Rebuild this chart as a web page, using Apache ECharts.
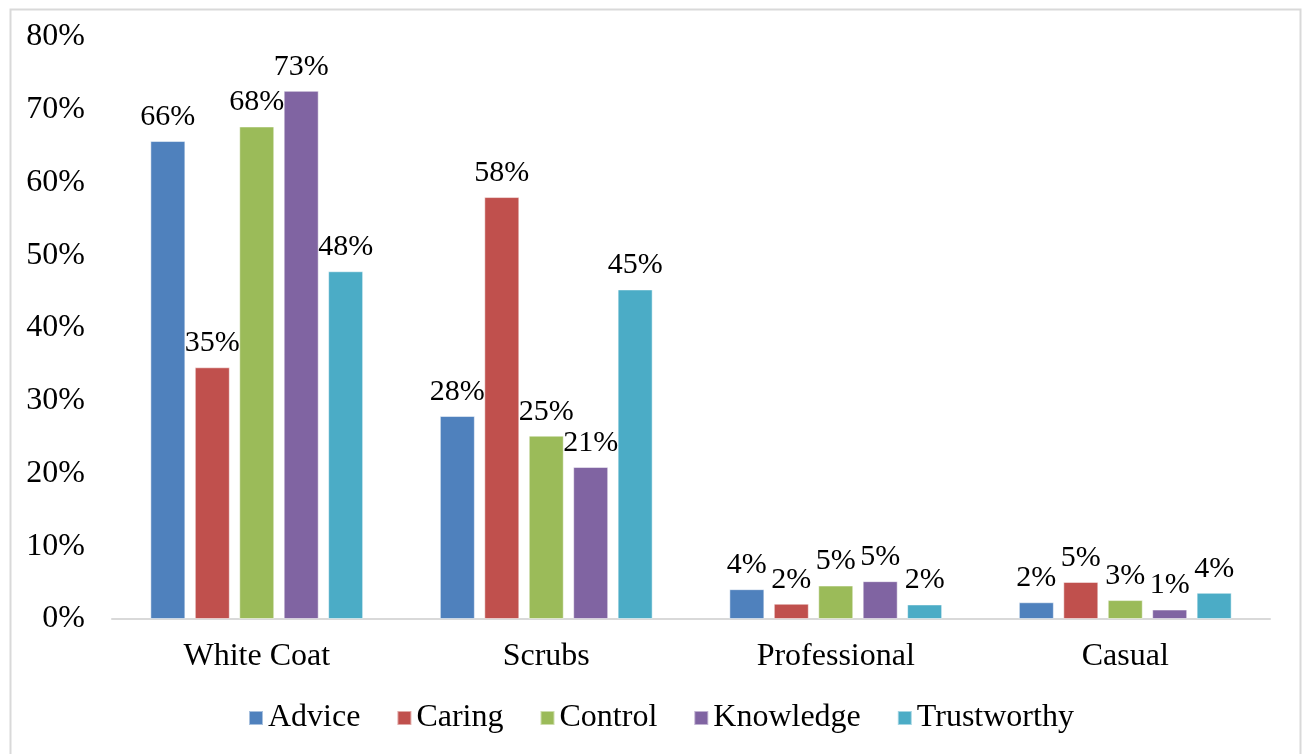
<!DOCTYPE html>
<html>
<head>
<meta charset="utf-8">
<script src="https://cdn.jsdelivr.net/npm/echarts@6/dist/echarts.min.js"></script>
<style>html,body{margin:0;padding:0;background:#fff;}#chart{width:1302px;height:754px;}</style>
</head>
<body>
<div id="chart"></div>
<script>
const categories = ['White Coat', 'Scrubs', 'Professional', 'Casual'];
const seriesNames = ['Advice', 'Caring', 'Control', 'Knowledge', 'Trustworthy'];
const advice = [65.7, 27.9, 4.1, 2.3];
const caring = [34.6, 58.0, 2.1, 5.1];
const control = [67.7, 25.2, 4.6, 2.6];
const knowledge = [72.6, 20.9, 5.2, 1.3];
const trustworthy = [47.8, 45.3, 2.0, 3.6];
const colors = ['#4F81BD', '#C0504D', '#9BBB59', '#8064A2', '#4BACC6'];
const yTicks = { min: 0, max: 80, interval: 10 };

const seriesData = [advice, caring, control, knowledge, trustworthy];
const FONT = "'Liberation Serif', 'Times New Roman', serif";

const chart = echarts.init(document.getElementById('chart'));
chart.setOption({
  animation: false,
  backgroundColor: '#fff',
  textStyle: { fontFamily: FONT, color: '#000' },
  graphic: [{
    type: 'rect', left: 8, top: 7, shape: { width: 1290, height: 780 },
    style: { fill: 'none', stroke: '#d9d9d9', lineWidth: 2 }, silent: true, z: -10
  }],
  color: colors,
  grid: { left: 112, right: 32, top: 37, bottom: 135 },
  legend: {
    top: 697, left: 243, itemWidth: 14, itemHeight: 14, itemGap: 36,
    icon: 'rect',
    textStyle: { fontFamily: FONT, fontSize: 32, color: '#000' },
    data: seriesNames
  },
  xAxis: {
    type: 'category', data: categories,
    axisLine: { lineStyle: { color: '#d9d9d9', width: 2 } },
    axisTick: { show: false },
    axisLabel: { fontFamily: FONT, fontSize: 32, color: '#000', margin: 22 }
  },
  yAxis: {
    type: 'value', min: yTicks.min, max: yTicks.max, interval: yTicks.interval,
    axisLine: { show: false }, axisTick: { show: false }, splitLine: { show: false },
    axisLabel: { fontFamily: FONT, fontSize: 32, color: '#000', margin: 27, formatter: '{value}%' }
  },
  series: seriesNames.map((name, i) => ({
    name, type: 'bar', data: seriesData[i],
    barWidth: 35, barGap: '27%', barCategoryGap: '26%',
    itemStyle: { color: colors[i], borderColor: 'rgba(255,255,255,0.5)', borderWidth: 1 },
    label: {
      show: true, position: 'top', distance: 9,
      fontFamily: FONT, fontSize: 30, color: '#000',
      formatter: p => Math.round(p.value) + '%'
    }
  }))
});
</script>
</body>
</html>
